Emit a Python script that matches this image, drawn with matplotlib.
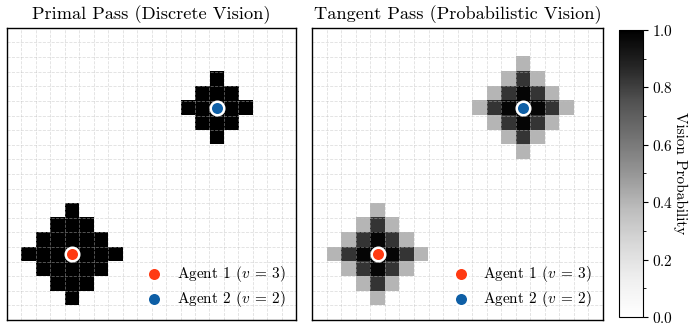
import numpy as np
import matplotlib
matplotlib.use("Agg")
from matplotlib import pyplot as plt
from matplotlib.ticker import MultipleLocator

plt.rcParams['font.family'] = 'serif'
plt.rcParams['font.serif'] = ['cmr10']
plt.rcParams['mathtext.fontset'] = 'cm'
plt.rcParams['axes.unicode_minus'] = False
plt.rcParams['axes.formatter.use_mathtext'] = True

grid_size = 20
agent_names = ["Agent 1 ($v\\:=\\:3$)", "Agent 2 ($v\\:=\\:2$)"]
agent_cells = [(4, 4), (14, 14)]
agent_colors = ["#ff3a12", "#0e5fa6"]

# discrete pass: cells within Manhattan distance v of each agent are seen
discrete_reach = [3, 2]
tangent_levels = [1.0, 0.98, 0.83, 0.40]

titles = ["Primal Pass (Discrete Vision)", "Tangent Pass (Probabilistic Vision)"]


def make_grid(levels_per_agent):
    g = np.zeros((grid_size, grid_size))
    yy, xx = np.mgrid[0:grid_size, 0:grid_size]
    for (cx, cy), levels in zip(agent_cells, levels_per_agent):
        d = np.abs(xx - cx) + np.abs(yy - cy)
        for dist, val in enumerate(levels):
            g = np.where(d == dist, np.maximum(g, val), g)
    return g


primal = make_grid([[1.0] * (r + 1) for r in discrete_reach])
tangent = make_grid([tangent_levels, tangent_levels])

fig = plt.figure(figsize=(6.97, 3.32), dpi=100)
ax1 = fig.add_axes([0.010, 0.036, 0.415, 0.880])
ax2 = fig.add_axes([0.448, 0.036, 0.417, 0.880])
cax = fig.add_axes([0.888, 0.045, 0.034, 0.865])

for ax, data, title in zip([ax1, ax2], [primal, tangent], titles):
    im = ax.imshow(data, cmap='Greys', vmin=0, vmax=1, origin='lower',
                   extent=[0, grid_size, 0, grid_size], aspect='auto',
                   interpolation='nearest')
    ax.set_xticks(np.arange(0, grid_size + 1))
    ax.set_yticks(np.arange(0, grid_size + 1))
    ax.tick_params(length=0, labelbottom=False, labelleft=False)
    ax.grid(True, linestyle='--', color='#c0c0c0', linewidth=0.6, alpha=0.5)
    for (cx, cy), name, col in zip(agent_cells, agent_names, agent_colors):
        ax.scatter(cx + 0.5, cy + 0.5, s=95, color=col, edgecolor='white',
                   linewidth=1.8, zorder=5, label=name)
    ax.set_xlim(0, grid_size)
    ax.set_ylim(0, grid_size)
    ax.set_title(title, fontsize=13.2, pad=6)
    for sp in ax.spines.values():
        sp.set_linewidth(1.0)
    ax.legend(loc='lower right', frameon=False, fontsize=11,
              handletextpad=0.5, labelspacing=0.35, borderaxespad=0.2,
              borderpad=0.5)

cb = fig.colorbar(im, cax=cax)
cb.set_ticks([0.0, 0.2, 0.4, 0.6, 0.8, 1.0])
cb.ax.yaxis.set_minor_locator(MultipleLocator(0.1))
cb.ax.tick_params(labelsize=11)
cb.set_label("Vision Probability", rotation=270, labelpad=10, fontsize=11)

fig.savefig("out.png", dpi=100)
